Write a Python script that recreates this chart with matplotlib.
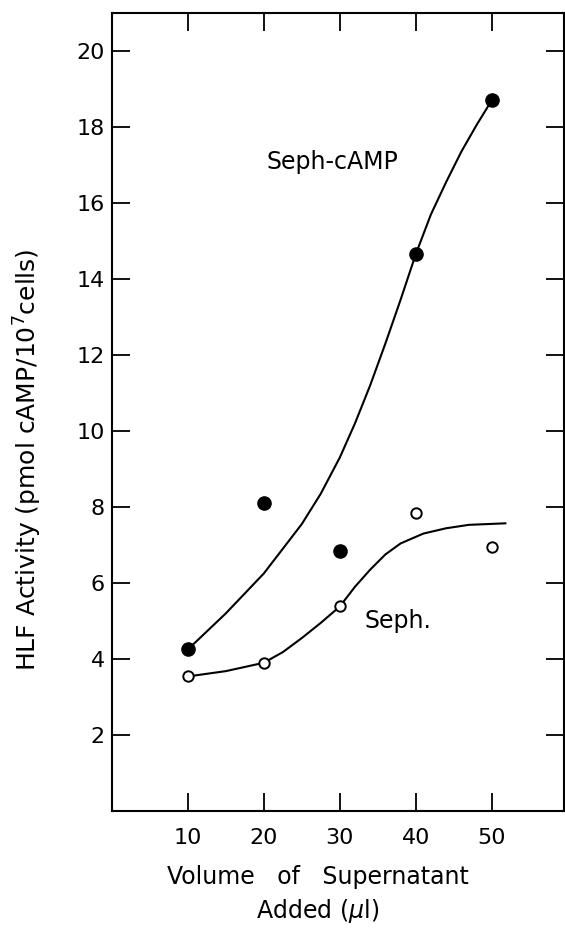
import matplotlib.pyplot as plt

# measured points
volume = [10, 20, 30, 40, 50]
seph_camp = [4.25, 8.1, 6.85, 14.65, 18.7]
seph = [3.55, 3.9, 5.4, 7.85, 6.95]

# hand drawn fit curves
camp_curve_x = [10, 15, 20, 25, 27.5, 30, 32, 34, 36, 38, 40, 42, 44, 46, 48, 50]
camp_curve_y = [4.25, 5.2, 6.25, 7.55, 8.35, 9.3, 10.2, 11.2, 12.3, 13.45, 14.65, 15.7, 16.55, 17.35, 18.05, 18.7]
seph_curve_x = [10, 15, 20, 22.5, 25, 27.5, 30, 32, 34, 36, 38, 41, 44, 47, 51.8]
seph_curve_y = [3.54, 3.68, 3.9, 4.18, 4.55, 4.95, 5.38, 5.9, 6.35, 6.75, 7.04, 7.3, 7.44, 7.53, 7.57]

xticks = [10, 20, 30, 40, 50]
yticks = [2, 4, 6, 8, 10, 12, 14, 16, 18, 20]

plt.rcParams['font.family'] = 'DejaVu Sans'

fig = plt.figure(figsize=(5.65, 9.3), dpi=100)
ax = fig.add_axes([0.198, 0.128, 0.800, 0.858])

ax.plot(camp_curve_x, camp_curve_y, color='black', lw=1.5)
ax.plot(seph_curve_x, seph_curve_y, color='black', lw=1.5)
ax.plot(volume, seph_camp, 'o', color='black', ms=9.5, zorder=3)
ax.plot(volume, seph, 'o', mfc='white', mec='black', mew=1.4, ms=7.5, zorder=3)

ax.text(20.4, 17.07, 'Seph-cAMP', fontsize=17, va='center', ha='left')
ax.text(33.3, 5.0, 'Seph.', fontsize=17, va='center', ha='left')

ax.set_xlim(0, 59.5)
ax.set_ylim(0, 21.0)
ax.set_xticks(xticks)
ax.set_yticks(yticks)
ax.tick_params(direction='in', length=13, width=1.3, labelsize=16,
               top=True, right=True)
ax.tick_params(axis='x', pad=12)
ax.tick_params(axis='y', pad=5)
for s in ax.spines.values():
    s.set_linewidth(1.5)

ax.set_xlabel('Volume   of   Supernatant\nAdded ($\\mu$l)', fontsize=17, linespacing=1.35)
ax.xaxis.set_label_coords(0.456, -0.068, transform=ax.transAxes)
ax.xaxis.label.set_va('top')
ax.set_ylabel('HLF Activity (pmol cAMP/10$^7$cells)', fontsize=18)
ax.yaxis.set_label_coords(-0.15, 0.44)

fig.savefig('out.png', dpi=100)
